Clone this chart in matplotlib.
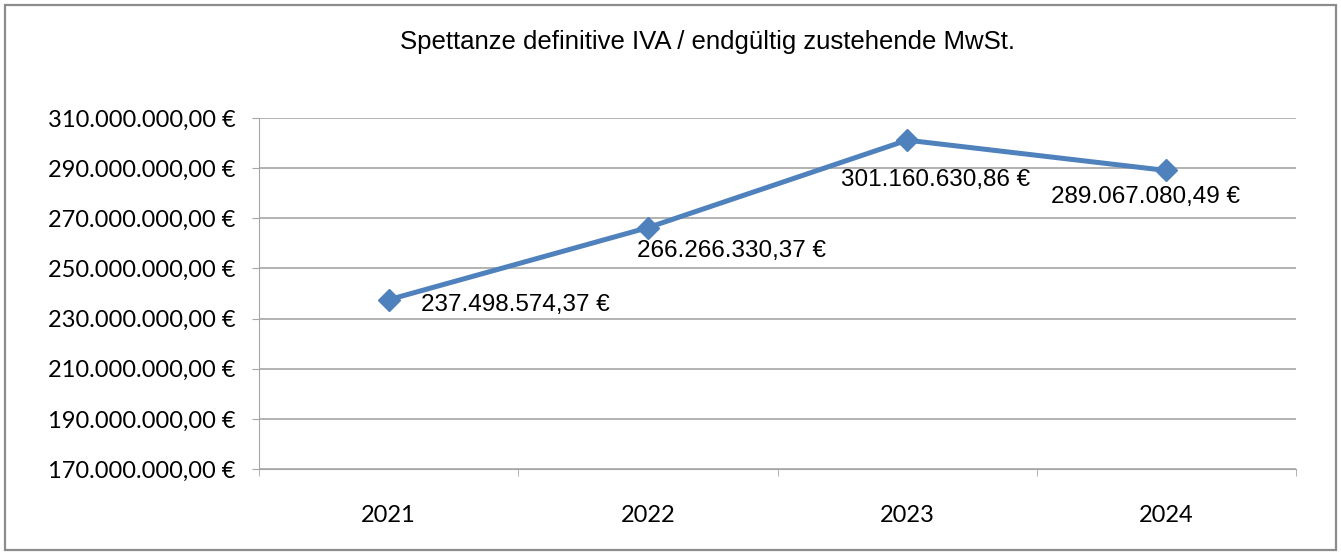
import matplotlib.pyplot as plt
from matplotlib.patches import Rectangle
from matplotlib.ticker import FixedLocator, NullFormatter

years = ["2021", "2022", "2023", "2024"]
values = [237498574.37, 266266330.37, 301160630.86, 289067080.49]
labels = ["237.498.574,37 €", "266.266.330,37 €", "301.160.630,86 €", "289.067.080,49 €"]
# label offsets in pixels (dx, dy) from each point
offsets = [(127, -5), (84, -23), (28, -40), (-21, -27)]

yticks = list(range(170000000, 310000001, 20000000))


def fmt_eur(v):
    s = f"{v:,.2f}"
    s = s.replace(",", "X").replace(".", ",").replace("X", ".")
    return s + " €"


fig = plt.figure(figsize=(13.41, 5.53), dpi=100)
fig.patches.append(Rectangle((5 / 1341, 3 / 553), 1331 / 1341, 545 / 553,
                             transform=fig.transFigure, fill=False,
                             edgecolor="#8c8c8c", linewidth=1.6))

ax = fig.add_axes([259 / 1341, 1 - 469 / 553, 1037 / 1341, 351 / 553])
x = range(len(years))
ax.plot(x, values, color="#4F81BD", linewidth=3.6, marker="D",
        markersize=11, zorder=3)

for i, (v, lab) in enumerate(zip(values, labels)):
    ax.annotate(lab, (i, v), xytext=offsets[i], textcoords="offset pixels",
                ha="center", va="center", fontsize=17.5,
                family="Liberation Sans", color="black")

ax.set_xlim(-0.5, 3.5)
ax.set_ylim(170000000, 310000000)
ax.set_yticks(yticks)
ax.set_yticklabels([fmt_eur(t) for t in yticks], family="Lato", fontsize=17)
ax.yaxis.grid(True, color="#a6a6a6", linewidth=1.2)
ax.tick_params(axis="y", length=5, color="#a6a6a6", pad=12, labelcolor="black")

ax.set_xticks(list(x))
ax.set_xticklabels(years, family="Lato", fontsize=17)
ax.tick_params(axis="x", which="major", length=0, pad=26, labelcolor="black")
ax.xaxis.set_minor_locator(FixedLocator([-0.5, 0.5, 1.5, 2.5, 3.5]))
ax.xaxis.set_minor_formatter(NullFormatter())
ax.tick_params(axis="x", which="minor", length=5, color="#a6a6a6")

for side in ["top", "right"]:
    ax.spines[side].set_visible(False)
ax.spines["left"].set_color("#a6a6a6")
ax.spines["bottom"].set_color("#a6a6a6")
ax.set_axisbelow(True)

fig.text(707 / 1341, 1 - 42 / 553, "Spettanze definitive IVA / endgültig zustehende MwSt.",
         ha="center", va="center", fontsize=18.5, family="Liberation Sans")

fig.savefig("out.png", dpi=100)
